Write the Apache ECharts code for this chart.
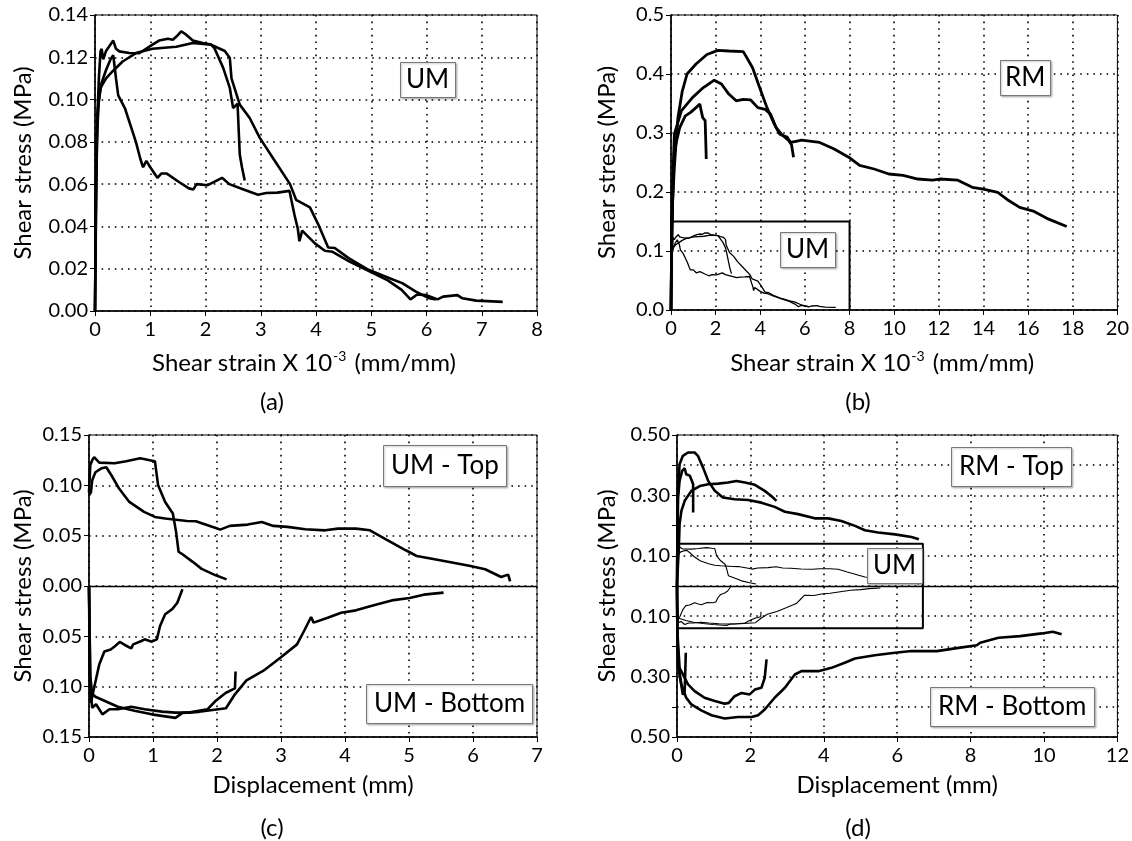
<!DOCTYPE html>
<html><head><meta charset="utf-8">
<script src="https://cdn.jsdelivr.net/npm/echarts@6/dist/echarts.min.js"></script>
<style>html,body{margin:0;padding:0;background:#fff}#c{width:1132px;height:841px}</style>
</head><body><div id="c"></div>
<script>
// ---------- Panel (a): UM, shear stress vs shear strain ----------
const aCurve1 = [[0,0],[0.01,0.03],[0.02,0.06],[0.04,0.085],[0.07,0.1],[0.12,0.108],[0.2,0.114],[0.28,0.119],[0.33,0.121],[0.38,0.11],[0.42,0.102],[0.54,0.096],[0.64,0.088],[0.74,0.08],[0.82,0.072],[0.87,0.068],[0.93,0.071],[1.0,0.068],[1.13,0.063],[1.2,0.065],[1.3,0.065],[1.52,0.061],[1.7,0.058],[1.78,0.0575],[1.84,0.06],[2.04,0.0595],[2.3,0.063],[2.43,0.06],[2.69,0.0575],[2.95,0.055],[3.1,0.0558],[3.3,0.056],[3.52,0.0568],[3.61,0.0455],[3.67,0.039],[3.7,0.033],[3.75,0.038],[3.98,0.032],[4.16,0.0285],[4.3,0.028],[4.6,0.0235],[4.95,0.019],[5.3,0.0145],[5.55,0.01],[5.71,0.0055],[5.83,0.0078],[6.0,0.0075],[6.2,0.0055],[6.3,0.0068],[6.56,0.0075],[6.65,0.006],[6.9,0.0049],[7.38,0.0043]];
const aCurve2 = [[0,0],[0.02,0.05],[0.04,0.09],[0.07,0.11],[0.1,0.1228],[0.12,0.124],[0.15,0.119],[0.2,0.123],[0.28,0.126],[0.33,0.1279],[0.38,0.124],[0.44,0.1228],[0.62,0.122],[0.8,0.1219],[1.04,0.126],[1.16,0.1279],[1.32,0.1288],[1.41,0.1283],[1.5,0.1305],[1.56,0.1323],[1.65,0.1307],[1.77,0.1279],[1.95,0.1268],[2.1,0.126],[2.22,0.1245],[2.35,0.123],[2.44,0.1197],[2.47,0.11],[2.62,0.0976],[2.8,0.0913],[2.98,0.082],[3.22,0.0724],[3.53,0.06],[3.64,0.0526],[3.89,0.049],[4.04,0.041],[4.22,0.03],[4.34,0.0298],[4.59,0.025],[4.95,0.0195],[5.32,0.0156],[5.56,0.0132],[5.8,0.0093],[6.05,0.006],[6.17,0.0055]];
const aCurve3 = [[0,0],[0.02,0.07],[0.05,0.095],[0.1,0.1055],[0.2,0.11],[0.32,0.1134],[0.5,0.118],[0.74,0.122],[1.04,0.124],[1.47,0.125],[1.77,0.1268],[2.1,0.126],[2.16,0.1244],[2.32,0.115],[2.44,0.1055],[2.5,0.096],[2.58,0.098],[2.62,0.074],[2.66,0.068],[2.71,0.0617]];

// ---------- Panel (b): RM, shear stress vs shear strain ----------
const bCurve1 = [[0,0],[0.03,0.1],[0.07,0.18],[0.15,0.242],[0.31,0.326],[0.5,0.37],[0.72,0.4],[1.12,0.417],[1.61,0.433],[2.1,0.44],[2.59,0.439],[3.24,0.438],[3.65,0.411],[3.97,0.377],[4.3,0.343],[4.63,0.315],[4.87,0.298],[5.2,0.293],[5.36,0.284],[5.6,0.286],[5.85,0.288],[6.66,0.284],[7.31,0.273],[7.96,0.259],[8.45,0.245],[9.1,0.239],[9.76,0.2305],[10.4,0.228],[11.06,0.222],[11.71,0.22],[12.04,0.222],[12.85,0.22],[13.5,0.208],[13.99,0.205],[14.64,0.1995],[15.13,0.1855],[15.62,0.174],[16.27,0.167],[16.92,0.154],[17.73,0.1415]];
const bCurve2 = [[0,0],[0.03,0.12],[0.08,0.22],[0.15,0.298],[0.47,0.338],[0.96,0.36],[1.45,0.377],[1.94,0.3895],[2.26,0.383],[2.59,0.366],[2.92,0.3545],[3.24,0.357],[3.57,0.356],[3.89,0.343],[4.22,0.34],[4.46,0.332],[4.71,0.309],[4.95,0.298],[5.28,0.287],[5.4,0.28],[5.49,0.259]];
const bCurve3 = [[0,0],[0.04,0.15],[0.15,0.27],[0.39,0.309],[0.64,0.329],[0.88,0.335],[1.12,0.343],[1.29,0.349],[1.42,0.326],[1.53,0.321],[1.58,0.256]];
const bInsetBox = [[0,0.15],[8,0.15],[8,0]];

// ---------- Panel (c): UM, shear stress vs displacement ----------
const cTop1 = [[0,0.093],[0.02,0.12],[0.05,0.125],[0.08,0.128],[0.16,0.1226],[0.4,0.122],[0.58,0.124],[0.8,0.127],[0.95,0.125],[1.03,0.124],[1.08,0.1],[1.19,0.0835],[1.31,0.072],[1.36,0.054],[1.4,0.034],[1.45,0.032],[1.62,0.024],[1.76,0.017],[1.98,0.0106],[2.15,0.0066]];
const cTop2 = [[0,0.09],[0.03,0.093],[0.05,0.105],[0.1,0.113],[0.2,0.117],[0.27,0.118],[0.35,0.11],[0.47,0.0968],[0.63,0.0835],[0.86,0.0736],[1.03,0.0686],[1.19,0.067],[1.53,0.0646],[1.67,0.0643],[1.98,0.0577],[2.05,0.056],[2.2,0.0597],[2.48,0.061],[2.7,0.0636],[2.88,0.0597],[3.1,0.0587],[3.38,0.0563],[3.69,0.0553],[3.89,0.057],[4.17,0.057],[4.39,0.0553],[4.64,0.0464],[4.95,0.0355],[5.12,0.0298],[5.4,0.0265],[5.63,0.0239],[5.96,0.0199],[6.19,0.0166],[6.44,0.0089],[6.55,0.0113],[6.58,0.0046]];
const cBot1 = [[0,0],[0.01,-0.08],[0.02,-0.11],[0.03,-0.116],[0.08,-0.101],[0.16,-0.078],[0.24,-0.065],[0.34,-0.063],[0.4,-0.06],[0.48,-0.0556],[0.56,-0.0586],[0.66,-0.062],[0.69,-0.058],[0.82,-0.0546],[0.87,-0.053],[0.98,-0.0553],[1.06,-0.053],[1.11,-0.0397],[1.19,-0.028],[1.3,-0.023],[1.38,-0.0166],[1.46,-0.0033]];
const cBot2 = [[0,0],[0.02,-0.1],[0.05,-0.121],[0.11,-0.1175],[0.21,-0.1275],[0.32,-0.1225],[0.45,-0.1225],[0.66,-0.12],[0.87,-0.1225],[1.14,-0.1248],[1.35,-0.1258],[1.56,-0.1258],[1.85,-0.1225],[1.98,-0.114],[2.14,-0.106],[2.28,-0.1017],[2.29,-0.085]];
const cBot3 = [[0,0],[0.02,-0.09],[0.05,-0.107],[0.1,-0.11],[0.24,-0.114],[0.45,-0.12],[0.71,-0.124],[0.98,-0.1275],[1.35,-0.131],[1.46,-0.126],[1.72,-0.125],[2.14,-0.1215],[2.28,-0.1076],[2.46,-0.0937],[2.72,-0.0844],[2.99,-0.0712],[3.25,-0.058],[3.36,-0.0447],[3.47,-0.0308],[3.51,-0.0364],[3.73,-0.0315],[3.94,-0.0265],[4.17,-0.0242],[4.45,-0.0192],[4.73,-0.0143],[5.01,-0.0119],[5.23,-0.0086],[5.54,-0.0066]];

// ---------- Panel (d): RM, shear stress vs displacement ----------
const dTop1 = [[0,0],[0.01,0.15],[0.02,0.3],[0.07,0.403],[0.16,0.431],[0.3,0.442],[0.48,0.442],[0.57,0.431],[0.71,0.392],[0.85,0.348],[1.03,0.315],[1.25,0.293],[1.57,0.287],[1.94,0.285],[2.3,0.276],[2.66,0.262],[2.94,0.246],[3.3,0.238],[3.75,0.224],[4.12,0.224],[4.48,0.2155],[4.85,0.199],[5.12,0.1845],[5.48,0.177],[5.94,0.171],[6.39,0.162],[6.59,0.155]];
const dTop2 = [[0,0],[0.01,0.15],[0.03,0.293],[0.07,0.348],[0.14,0.381],[0.21,0.39],[0.25,0.37],[0.35,0.365],[0.44,0.337],[0.44,0.243]];
const dTop3 = [[0,0],[0.03,0.08],[0.05,0.127],[0.07,0.204],[0.12,0.249],[0.21,0.282],[0.39,0.315],[0.62,0.331],[0.85,0.337],[1.12,0.339],[1.39,0.3425],[1.62,0.348],[1.85,0.3425],[2.12,0.335],[2.39,0.315],[2.57,0.298],[2.71,0.282]];
const dBot1 = [[0,0],[0.01,-0.15],[0.03,-0.26],[0.12,-0.326],[0.25,-0.37],[0.39,-0.392],[0.66,-0.412],[0.94,-0.428],[1.3,-0.439],[1.66,-0.434],[2.03,-0.434],[2.21,-0.428],[2.39,-0.409],[2.66,-0.37],[2.94,-0.337],[3.21,-0.293],[3.39,-0.282],[3.85,-0.282],[4.21,-0.271],[4.57,-0.254],[4.85,-0.24],[5.39,-0.2295],[5.94,-0.221],[6.39,-0.2155],[7.08,-0.2157],[7.67,-0.205],[8.17,-0.196],[8.26,-0.188],[8.76,-0.1715],[9.35,-0.166],[9.94,-0.157],[10.24,-0.1515],[10.48,-0.16]];
const dBot2 = [[0,0],[0.01,-0.15],[0.07,-0.271],[0.3,-0.326],[0.48,-0.348],[0.75,-0.37],[1.03,-0.381],[1.3,-0.39],[1.41,-0.387],[1.57,-0.365],[1.76,-0.354],[1.98,-0.359],[2.12,-0.343],[2.3,-0.337],[2.39,-0.304],[2.44,-0.243]];
const dBot3 = [[0,0],[0.01,-0.15],[0.03,-0.238],[0.07,-0.293],[0.16,-0.36],[0.21,-0.348],[0.24,-0.221]];
const dInsetBox = [[0,0.14],[6.7,0.14],[6.7,-0.14],[0,-0.14]];

// ---------- Axis ticks / texts ----------
const xRangeA = [0, 8, 1], yRangeA = [0, 0.14, 0.02];
const xRangeB = [0, 20, 2], yRangeB = [0, 0.5, 0.1];
const xRangeC = [0, 7, 1], yRangeC = [-0.15, 0.15, 0.05];
const xRangeD = [0, 12, 2], yRangeD = [-0.5, 0.5, 0.1];
const yName = 'Shear stress (MPa)';
const strainName = '{n|Shear strain X 10}{s|-3}{n| (mm/mm)}';
const dispName = 'Displacement (mm)';
const captions = ['(a)', '(b)', '(c)', '(d)'];

const FONT = 'Lato';
const chart = echarts.init(document.getElementById('c'), null, {renderer: 'canvas'});

const grids = [
  {left: 95, top: 15, width: 442, height: 296},
  {left: 671, top: 15, width: 447, height: 295},
  {left: 89, top: 435, width: 448, height: 302},
  {left: 677, top: 435, width: 441, height: 302}
].map(g => Object.assign({show: true, borderColor: '#000', borderWidth: 1, containLabel: false}, g));

const dotted = {show: true, lineStyle: {color: '#000', width: 1.6, type: [1.6, 5]}};
function xAx(i, r, name, gap, shift) {
  return {type: 'value', gridIndex: i, min: r[0], max: r[1], interval: r[2],
    axisLine: {show: true, onZero: false, lineStyle: {color: '#000', width: 1.5}},
    axisTick: {show: true, length: 5, lineStyle: {color: '#000'}},
    axisLabel: {color: '#000', fontSize: 20, fontFamily: FONT, margin: 9},
    splitLine: dotted,
    name: name, nameLocation: 'middle', nameGap: gap,
    nameTextStyle: {color: '#000', fontSize: 24, fontFamily: FONT, padding: [0, shift || 0, 0, 0],
      rich: {n: {fontSize: 24, fontFamily: FONT, color: '#000', lineHeight: 28},
             s: {fontSize: 14, fontFamily: FONT, color: '#000', verticalAlign: 'top', lineHeight: 28, padding: [0, 2, 12, 1]}}}
  };
}
function yAx(i, r, fmt, gap) {
  return {type: 'value', gridIndex: i, min: r[0], max: r[1], interval: r[2],
    axisLine: {show: true, onZero: false, lineStyle: {color: '#000', width: 1.5}},
    axisTick: {show: true, length: 5, lineStyle: {color: '#000'}},
    axisLabel: {color: '#000', fontSize: 20, fontFamily: FONT, margin: 7, formatter: fmt},
    splitLine: dotted,
    name: yName, nameLocation: 'middle', nameGap: gap,
    nameTextStyle: {color: '#000', fontSize: 24, fontFamily: FONT}
  };
}
const fmt2 = v => Math.abs(v).toFixed(2);
const fmt1 = v => Math.abs(v).toFixed(1);
const fmtD = v => { const t = Math.round(Math.abs(v) * 10); return t % 2 === 1 ? (t / 10).toFixed(2) : ''; };

function line(data, gi, w, extra) {
  return Object.assign({type: 'line', xAxisIndex: gi, yAxisIndex: gi, data: data, showSymbol: false, symbol: 'none',
    lineStyle: {color: '#000', width: w}, silent: true, animation: false, clip: true, z: 3}, extra || {});
}
const zeroLine = {silent: true, symbol: 'none', label: {show: false}, lineStyle: {color: '#000', type: 'solid', width: 1.3}, data: [{yAxis: 0}]};

const series = [
  line(aCurve1, 0, 2.6), line(aCurve2, 0, 2.6), line(aCurve3, 0, 2.6),
  line(bCurve1, 1, 2.8), line(bCurve2, 1, 2.8), line(bCurve3, 1, 2.8),
  line(aCurve1, 1, 1.3), line(aCurve2, 1, 1.3), line(aCurve3, 1, 1.3),
  line(bInsetBox, 1, 2),
  line(cTop1, 2, 2.6, {markLine: zeroLine}), line(cTop2, 2, 2.6),
  line(cBot1, 2, 2.6), line(cBot2, 2, 2.6), line(cBot3, 2, 2.6),
  line(dTop1, 3, 2.6, {markLine: zeroLine}), line(dTop2, 3, 2.6), line(dTop3, 3, 2.6),
  line(dBot1, 3, 2.6), line(dBot2, 3, 2.6), line(dBot3, 3, 2.6),
  line(cTop1, 3, 1.1), line(cTop2, 3, 1.1), line(cBot1, 3, 1.1), line(cBot2, 3, 1.1), line(cBot3, 3, 1.1),
  line(dInsetBox, 3, 2)
];

function box(text, left, top, pad) {
  return {text: text, left: left, top: top, padding: pad || [4, 7], borderColor: '#777', borderWidth: 1,
    backgroundColor: '#fff', shadowColor: 'rgba(0,0,0,0.25)', shadowBlur: 2, shadowOffsetX: 1, shadowOffsetY: 1,
    textStyle: {fontSize: 26, fontWeight: 'normal', fontFamily: FONT, color: '#000', lineHeight: 28}};
}

const capPos = [[272, 402], [858, 402], [272, 828], [858, 828]];
chart.setOption({
  animation: false,
  backgroundColor: '#fff',
  grid: grids,
  xAxis: [xAx(0, xRangeA, strainName, 38, 24), xAx(1, xRangeB, strainName, 39, 24), xAx(2, xRangeC, dispName, 36), xAx(3, xRangeD, dispName, 36)],
  yAxis: [yAx(0, yRangeA, fmt2, 60), yAx(1, yRangeB, fmt1, 52), yAx(2, yRangeC, fmt2, 54), yAx(3, yRangeD, fmtD, 58)],
  title: [
    box('UM', 400, 62, [4, 6]),
    box('RM', 1000, 60, [4, 5]),
    box('UM', 780, 232, [4, 6]),
    box('UM - Top', 383, 445, [7, 8]),
    box('UM - Bottom', 366, 684, [6, 8]),
    box('RM - Top', 951, 447, [6, 8]),
    box('UM', 867, 548, [4, 6]),
    box('RM - Bottom', 930, 687, [6, 8])
  ],
  graphic: captions.map((t, i) => ({type: 'text', x: capPos[i][0], y: capPos[i][1],
    style: {text: t, fontSize: 24, fontFamily: FONT, fill: '#000', textAlign: 'center', textVerticalAlign: 'middle'}})),
  series: series
});
</script></body></html>
